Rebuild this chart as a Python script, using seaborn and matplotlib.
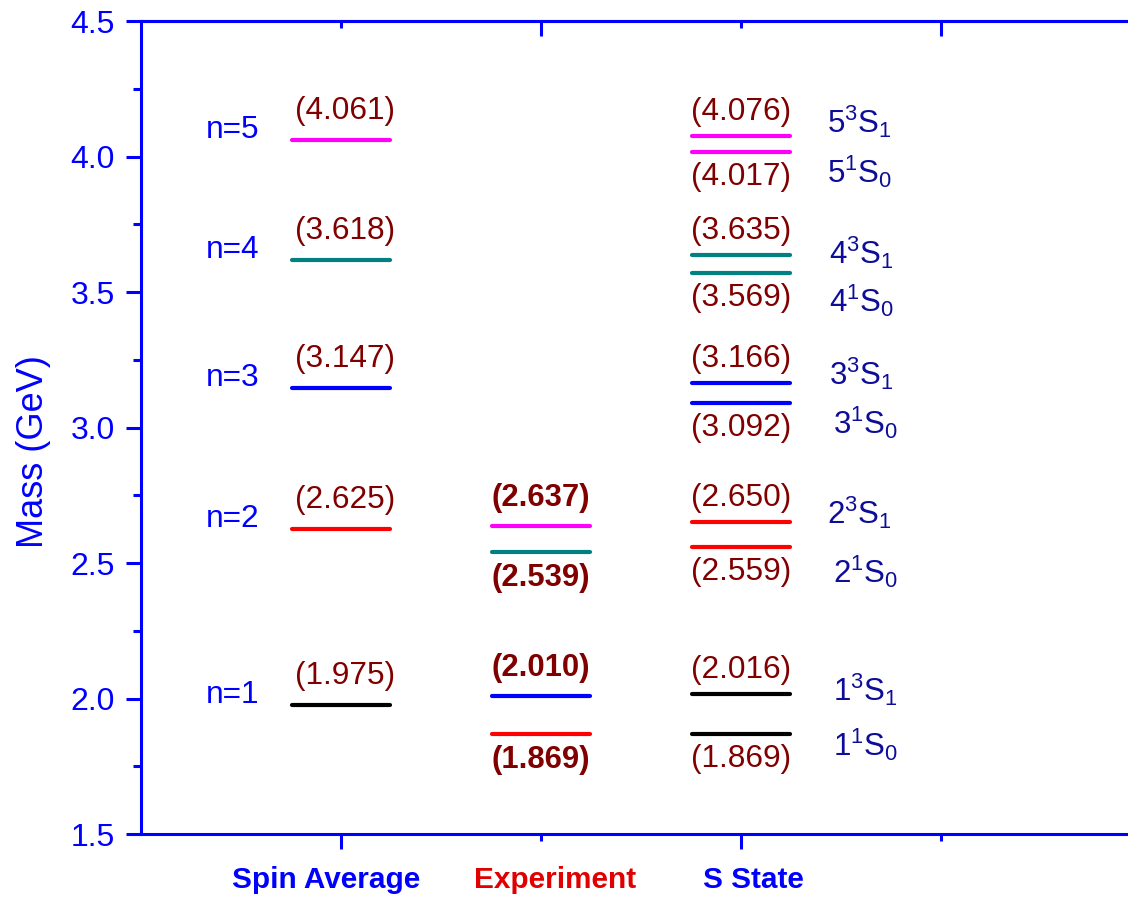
import matplotlib
matplotlib.use("Agg")
import matplotlib.pyplot as plt
from matplotlib.ticker import FixedLocator, MultipleLocator, FormatStrFormatter
import seaborn as sns
import pandas as pd

# ---- data -------------------------------------------------------------
columns = ["Spin Average", "Experiment", "S State"]
column_x = [1, 2, 3]

spin_avg_mass = [1.975, 2.625, 3.147, 3.618, 4.061]
spin_avg_color = ["black", "red", "blue", "teal", "magenta"]
n_labels = ["n=1", "n=2", "n=3", "n=4", "n=5"]

exp_mass = [2.637, 2.539, 2.010, 1.869]
exp_color = ["magenta", "teal", "blue", "red"]

s_mass = [2.016, 1.869, 2.650, 2.559, 3.166, 3.092, 3.635, 3.569, 4.076, 4.017]
s_color = ["black", "black", "red", "red", "blue", "blue",
           "teal", "teal", "magenta", "magenta"]
s_labels = [r"$\mathregular{1^3S_1}$", r"$\mathregular{1^1S_0}$",
            r"$\mathregular{2^3S_1}$", r"$\mathregular{2^1S_0}$",
            r"$\mathregular{3^3S_1}$", r"$\mathregular{3^1S_0}$",
            r"$\mathregular{4^3S_1}$", r"$\mathregular{4^1S_0}$",
            r"$\mathregular{5^3S_1}$", r"$\mathregular{5^1S_0}$"]

# ---- layout / style ---------------------------------------------------
half_len = 0.245
value_above = [True, False]           # upper level label above, lower below
s_label_dy = [4, -11, 10, -25, 9, -20, 3, -27, 14, -20]   # px
s_label_dx = [3.46, 3.46, 3.43, 3.46, 3.44, 3.46, 3.44, 3.44, 3.43, 3.43]
exp_above = [True, False, True, False]

palette = {"black": "#000000", "red": "#FF0000", "blue": "#0000FF",
           "teal": "#008080", "magenta": "#FF00FF"}
axis_blue = "#0000FF"
value_red = "#800000"
state_navy = "#0D0D99"

sns.set_theme(style="white")
plt.rcParams["font.family"] = ["Liberation Sans", "DejaVu Sans"]
plt.rcParams["mathtext.fontset"] = "custom"
plt.rcParams["mathtext.rm"] = "Liberation Sans"
plt.rcParams["mathtext.it"] = "Liberation Sans:italic"
plt.rcParams["mathtext.bf"] = "Liberation Sans:bold"

# ---- build level segments ---------------------------------------------
rows = []
uid = 0
for col, masses, colors in [(1, spin_avg_mass, spin_avg_color),
                            (2, exp_mass, exp_color),
                            (3, s_mass, s_color)]:
    for m, c in zip(masses, colors):
        for x in (col - half_len, col + half_len):
            rows.append({"x": x, "mass": m, "level": uid, "color": c})
        uid += 1
df = pd.DataFrame(rows)

fig = plt.figure(figsize=(11.28, 8.97), dpi=100)
ax = fig.add_axes([141 / 1128, 63 / 897, 1000 / 1128, 813 / 897])

sns.lineplot(data=df, x="x", y="mass", hue="color", units="level",
             estimator=None, palette=palette, linewidth=3.0, ax=ax,
             legend=False, sort=False)

ax.set_xlim(0, 5)
ax.set_ylim(1.5, 4.5)

# ---- annotations ------------------------------------------------------
px = 0.72  # points per pixel at 100 dpi
fs_val = 22.8

for m, lab in zip(spin_avg_mass, n_labels):
    ax.annotate(f"({m:.3f})", (1.02, m), xytext=(0, 29 * px),
                textcoords="offset points", ha="center", va="center",
                color=value_red, fontsize=fs_val)
    ax.annotate(lab, (0.46, m), xytext=(0, 10 * px),
                textcoords="offset points", ha="center", va="center",
                color=axis_blue, fontsize=fs_val)

for m, up in zip(exp_mass, exp_above):
    ax.annotate(f"({m:.3f})", (2, m), xytext=(0, (28 if up else -26) * px),
                textcoords="offset points", ha="center", va="center",
                color=value_red, fontsize=fs_val - 0.5, fontweight="bold")

for i, (m, lab) in enumerate(zip(s_mass, s_labels)):
    up = value_above[i % 2]
    ax.annotate(f"({m:.3f})", (3, m), xytext=(0, (24 if up else -25) * px),
                textcoords="offset points", ha="center", va="center",
                color=value_red, fontsize=fs_val)
    ax.annotate(lab, (s_label_dx[i], m), xytext=(0, s_label_dy[i] * px),
                textcoords="offset points", ha="left", va="center",
                color=state_navy, fontsize=22.5)

# ---- axes styling -----------------------------------------------------
for side in ["left", "bottom", "top"]:
    ax.spines[side].set_visible(True)
    ax.spines[side].set_color(axis_blue)
    ax.spines[side].set_linewidth(2.2)
ax.spines["right"].set_visible(False)

ax.yaxis.set_major_locator(MultipleLocator(0.5))
ax.yaxis.set_minor_locator(MultipleLocator(0.25))
ax.yaxis.set_major_formatter(FormatStrFormatter("%.1f"))
ax.tick_params(axis="y", which="major", direction="out", length=10.8,
               width=2.2, color=axis_blue, labelcolor=axis_blue,
               labelsize=23, pad=8, left=True)
ax.tick_params(axis="y", which="minor", direction="out", length=5.5,
               width=2.2, color=axis_blue, left=True)

ax.xaxis.set_major_locator(FixedLocator([1, 3]))
ax.xaxis.set_minor_locator(FixedLocator([2, 4]))
ax.tick_params(axis="x", which="major", direction="out", length=10.8,
               width=2.2, color=axis_blue, labelbottom=False, bottom=True)
ax.tick_params(axis="x", which="minor", direction="out", length=5.0,
               width=2.2, color=axis_blue, bottom=True)

top = ax.secondary_xaxis("top")
top.set_xticks([2, 4])
top.xaxis.set_minor_locator(FixedLocator([1, 3]))
top.spines["top"].set_color(axis_blue)
top.spines["top"].set_linewidth(2.2)
top.tick_params(axis="x", which="major", direction="in", length=10.8,
                width=2.2, color=axis_blue, labeltop=False, top=True)
top.tick_params(axis="x", which="minor", direction="in", length=5.0,
                width=2.2, color=axis_blue, top=True)

ax.set_xlabel("")
ax.set_ylabel("Mass (GeV)", color=axis_blue, fontsize=26)
ax.yaxis.set_label_coords(-0.090, 0.47)

col_text_x = [0.925, 2.07, 3.06]
col_text_color = [axis_blue, "#E00000", axis_blue]
for name, x, c in zip(columns, col_text_x, col_text_color):
    ax.text(x, -0.056, name, transform=ax.get_xaxis_transform(),
            ha="center", va="center", color=c, fontsize=21.4,
            fontweight="bold")

fig.savefig("out.png", dpi=100)
